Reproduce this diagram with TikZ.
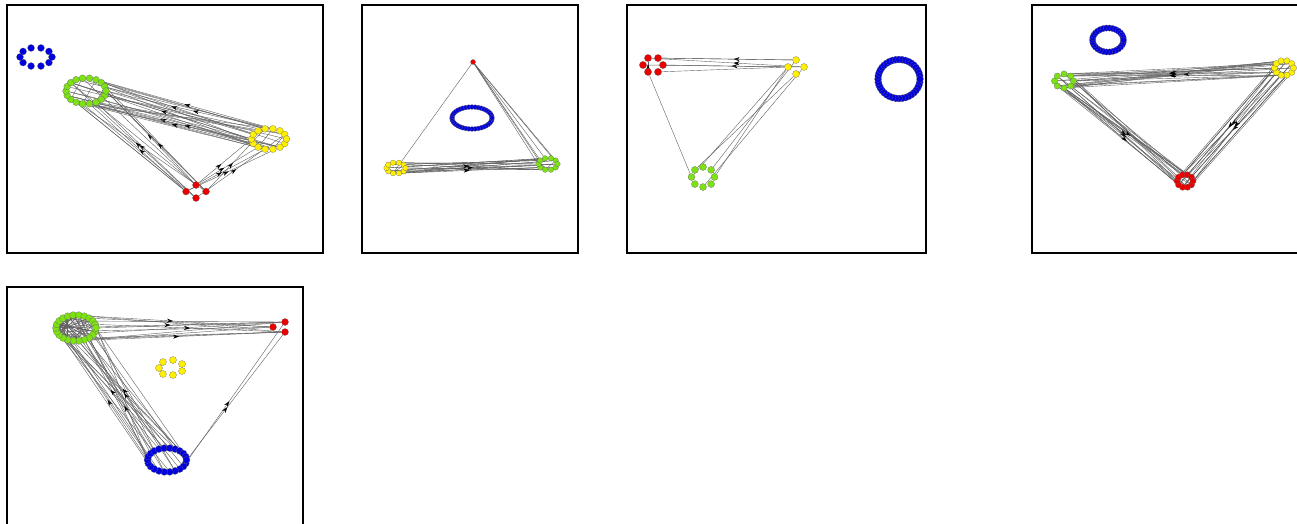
\documentclass[tikz,border=0pt]{standalone}
\usetikzlibrary{arrows.meta,decorations.markings}
\pgfdeclarelayer{paper}
\pgfdeclarelayer{back}
\pgfsetlayers{paper,back,main}
\definecolor{cred}{RGB}{235,0,0}
\definecolor{cgreen}{RGB}{125,225,20}
\definecolor{cyellow}{RGB}{255,240,0}
\definecolor{cblue}{RGB}{0,0,225}

\tikzset{
  frame/.style={draw=black, line width=1.6pt},
  dot/.style={circle, inner sep=0pt, minimum size=#1, draw=black!60, line width=0.2pt},
  dot/.default=7pt,
  edge/.style={draw=black!62, line width=0.4pt},
  arr/.style={edge, postaction={decorate},
    decoration={markings, mark=at position #1 with {\arrow[black]{Stealth[length=6pt,width=4pt]}}}},
  arr/.default=0.55,
}

% ring of equal dots: name, cx, cy, rx, ry, count, colour, dot size
\newcommand\ring[8]{%
  \foreach \i in {1,...,#6}{
    \node[dot=#8, fill=#7] (#1-\i) at ({#2+#4*cos(360*\i/#6)},{#3+#5*sin(360*\i/#6)}) {};
  }}

% a bundle of edges between two groups: [style] A, nA, B, nB, count, stepA, stepB
\newcommand\linkset[8][edge]{%
  \begin{pgfonlayer}{back}
  \foreach \k in {1,...,#6}{
    \pgfmathtruncatemacro\ia{mod(\k*#7,#3)+1}
    \pgfmathtruncatemacro\ib{mod(\k*#8,#5)+1}
    \draw[#1] (#2-\ia) -- (#4-\ib);
  }
  \end{pgfonlayer}}

\begin{document}
\begin{tikzpicture}[x=1pt,y=-1pt]
\begin{pgfonlayer}{paper}
\fill[white] (0,0) rectangle (1297,524);
\end{pgfonlayer}
\useasboundingbox (0,0) rectangle (1297,524);

% panel frames
\draw[frame] (7,5) rectangle (323,253);
\draw[frame] (362,5) rectangle (578,253);
\draw[frame] (627,5) rectangle (926,253);
\draw[frame] (1032,5) rectangle (1320,253);
\draw[frame] (7,287) rectangle (303,540);

% ---------- panel 1 ----------
\ring{b1}{36}{57}{16}{9.5}{10}{cblue}{7pt}
\ring{g1}{86}{91}{20}{13}{18}{cgreen}{6.8pt}
\ring{y1}{269}{139}{17.5}{10.5}{14}{cyellow}{6.8pt}
\ring{r1}{196}{191.5}{10}{6.5}{4}{cred}{7pt}
\linkset{g1}{18}{y1}{14}{20}{5}{3}
\linkset[arr=0.5]{y1}{14}{g1}{18}{7}{5}{7}
\linkset{r1}{4}{g1}{18}{8}{1}{5}
\linkset[arr=0.48]{r1}{4}{g1}{18}{5}{3}{7}
\linkset[arr=0.45]{r1}{4}{y1}{14}{6}{1}{3}
\linkset{g1}{18}{g1}{18}{8}{1}{8}
\linkset{y1}{14}{y1}{14}{6}{1}{6}

% ---------- panel 2 ----------
\ring{r2}{473}{62}{0}{0}{1}{cred}{5pt}
\ring{b2}{472}{118}{20}{11}{40}{cblue}{4.8pt}
\ring{y2}{396}{168}{9.5}{5.5}{10}{cyellow}{5.5pt}
\ring{g2}{548}{164}{9.5}{6}{10}{cgreen}{5.5pt}
\linkset{y2}{10}{g2}{10}{18}{3}{7}
\linkset[arr=0.5]{y2}{10}{g2}{10}{3}{1}{3}
\linkset{r2}{1}{y2}{10}{1}{1}{2}
\linkset{r2}{1}{g2}{10}{6}{1}{3}
\linkset{y2}{10}{y2}{10}{3}{1}{4}
\linkset{g2}{10}{g2}{10}{2}{1}{4}

% ---------- panel 3 ----------
\ring{r3}{653}{65}{10}{8}{6}{cred}{7.3pt}
\ring{y3}{796}{67}{8}{7}{4}{cyellow}{7pt}
\ring{g3}{703}{177}{11.5}{10}{8}{cgreen}{7pt}
\ring{b3}{899}{79}{21}{19.5}{40}{cblue}{7pt}
\linkset[arr=0.45]{y3}{4}{r3}{6}{3}{1}{5}
\linkset{y3}{4}{r3}{6}{3}{3}{2}
\linkset{r3}{6}{g3}{8}{1}{1}{3}
\linkset{y3}{4}{g3}{8}{5}{1}{3}
\linkset[arr=0.6]{r3}{6}{r3}{6}{1}{1}{3}

% ---------- panel 4 ----------
\ring{b4}{1108}{40}{15.5}{12}{30}{cblue}{6.3pt}
\ring{g4}{1064}{81}{9.5}{7}{8}{cgreen}{6.3pt}
\ring{y4}{1284}{68}{9.5}{7.5}{10}{cyellow}{6.3pt}
\ring{r4}{1185}{181}{8}{6.5}{10}{cred}{6.3pt}
\linkset{g4}{8}{y4}{10}{16}{3}{7}
\linkset[arr=0.5]{y4}{10}{g4}{8}{5}{3}{5}
\linkset{g4}{8}{r4}{10}{14}{3}{7}
\linkset[arr=0.55]{g4}{8}{r4}{10}{4}{1}{3}
\linkset{r4}{10}{y4}{10}{14}{3}{7}
\linkset[arr=0.5]{y4}{10}{r4}{10}{4}{1}{3}
\linkset{r4}{10}{r4}{10}{6}{1}{4}
\linkset{y4}{10}{y4}{10}{3}{1}{4}

% ---------- panel 5 ----------
\ring{g5}{76}{328}{20}{13}{22}{cgreen}{7pt}
\ring{b5}{167}{460}{19.5}{12}{22}{cblue}{7pt}
\foreach \p [count=\n] in {(273,327),(285,322),(285,332)}
  \node[dot=7pt, fill=cred] (r5-\n) at \p {};
\foreach \p [count=\n] in {(163,362),(173,360),(182,364),(182,371),(173,375),(163,374),(159,368)}
  \node[dot=7pt, fill=cyellow] (y5-\n) at \p {};
\linkset{g5}{22}{r5}{3}{10}{3}{1}
\linkset[arr=0.5]{g5}{22}{r5}{3}{4}{5}{2}
\linkset{g5}{22}{b5}{22}{20}{3}{7}
\linkset[arr=0.5]{b5}{22}{g5}{22}{5}{5}{3}
\linkset[arr=0.45]{b5}{22}{r5}{3}{2}{1}{1}
\linkset{g5}{22}{g5}{22}{21}{1}{8}
\linkset{g5}{22}{g5}{22}{21}{3}{12}
\linkset{g5}{22}{g5}{22}{21}{5}{10}
\linkset{g5}{22}{g5}{22}{21}{7}{14}
\end{tikzpicture}
\end{document}
